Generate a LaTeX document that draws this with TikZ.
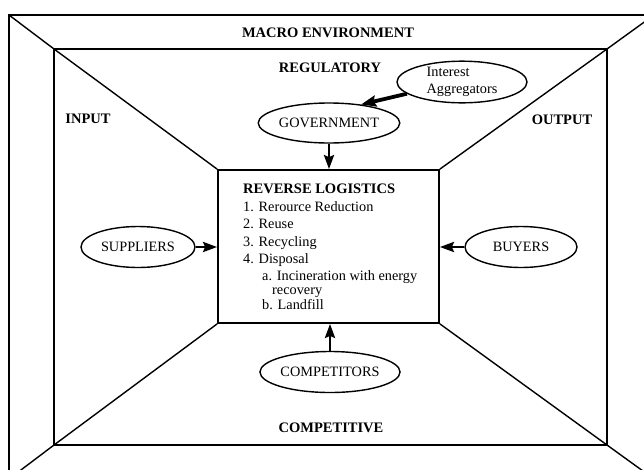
\documentclass[tikz,border=0pt]{standalone}
\usepackage{fontspec}
\setmainfont{Liberation Serif}
\usetikzlibrary{shapes.geometric,arrows.meta}
\begin{document}
\begin{tikzpicture}[x=1pt,y=-1pt,
  frame/.style={line width=1.6pt},
  diag/.style={line width=1.4pt},
  ell/.style={draw,ellipse,line width=1.4pt,inner sep=0pt,font=\fontsize{14.3}{17}\selectfont},
  lbl/.style={font=\fontsize{14.5}{17}\selectfont\bfseries,inner sep=0pt,anchor=base},
  item/.style={font=\fontsize{14.3}{17}\selectfont,inner sep=0pt,anchor=base west},
  arr/.style={line width=2.6pt,-{Stealth[length=14pt,width=10pt,inset=2pt]}},
  arrb/.style={line width=3.8pt,-{Stealth[length=15pt,width=11pt,inset=2pt]}}]
\fill[white] (0,0) rectangle (644,469);
\clip (0,0) rectangle (644,469);
% outer and inner frames
\coordinate (onw) at (9,15);
\coordinate (one) at (654,15);
\coordinate (osw) at (9,479);
\coordinate (ose) at (654,479);
\coordinate (inw) at (54,49);
\coordinate (ine) at (607,49);
\coordinate (isw) at (54,445);
\coordinate (ise) at (607,445);
\draw[frame] (onw) rectangle (ose);
\draw[frame] (inw) rectangle (ise);
% central box
\node[draw,line width=1.8pt,minimum width=221pt,minimum height=153pt,inner sep=0pt] (box) at (328.5,246.5) {};
\draw[diag] (onw) -- (inw) -- (box.north west);
\draw[diag] (one) -- (ine) -- (box.north east);
\draw[diag] (osw) -- (isw) -- (box.south west);
\draw[diag] (ose) -- (ise) -- (box.south east);
% labels
\node[lbl] (macro) at (328,37) {MACRO ENVIRONMENT};
\node[lbl] (reg) at (330,72) {REGULATORY};
\node[lbl] (inp) at (88,123) {INPUT};
\node[lbl] (outp) at (562,124) {OUTPUT};
\node[lbl] (compv) at (331,432) {COMPETITIVE};
% box text
\node[item,font=\fontsize{14.5}{17}\selectfont\bfseries] (rl) at (243,193) {REVERSE LOGISTICS};
\node[item] (i1) at (243,211) {1. Rerource Reduction};
\node[item] (i2) at (243,228.5) {2. Reuse};
\node[item] (i3) at (243,246) {3. Recycling};
\node[item] (i4) at (243,263.5) {4. Disposal};
\node[item] (ia1) at (262,280) {a. Incineration with energy};
\node[item] (ia2) at (272,294.5) {recovery};
\node[item] (ib) at (262,309.5) {b. Landfill};
% ellipses
\node[ell,minimum width=132pt,minimum height=40pt] (gov) at (329,123) {GOVERNMENT};
\node[ell,minimum width=130pt,minimum height=40pt,align=left] (ia) at (462,82) {Interest\\Aggregators};
\node[ell,minimum width=114pt,minimum height=41pt] (sup) at (138,247) {SUPPLIERS};
\node[ell,minimum width=112pt,minimum height=41pt] (buy) at (521,247) {BUYERS};
\node[ell,minimum width=130pt,minimum height=41pt] (comp) at (330,372) {COMPETITORS};
% arrows
\draw[arrb] (ia.192) -- (gov.30);
\draw[arr] (gov.south) -- (gov.south |- box.north);
\draw[arr] (comp.north) -- (comp.north |- box.south);
\draw[arr] (sup.east) -- (sup.east -| box.west);
\draw[arr] (buy.west) -- (buy.west -| box.east);
\end{tikzpicture}
\end{document}
